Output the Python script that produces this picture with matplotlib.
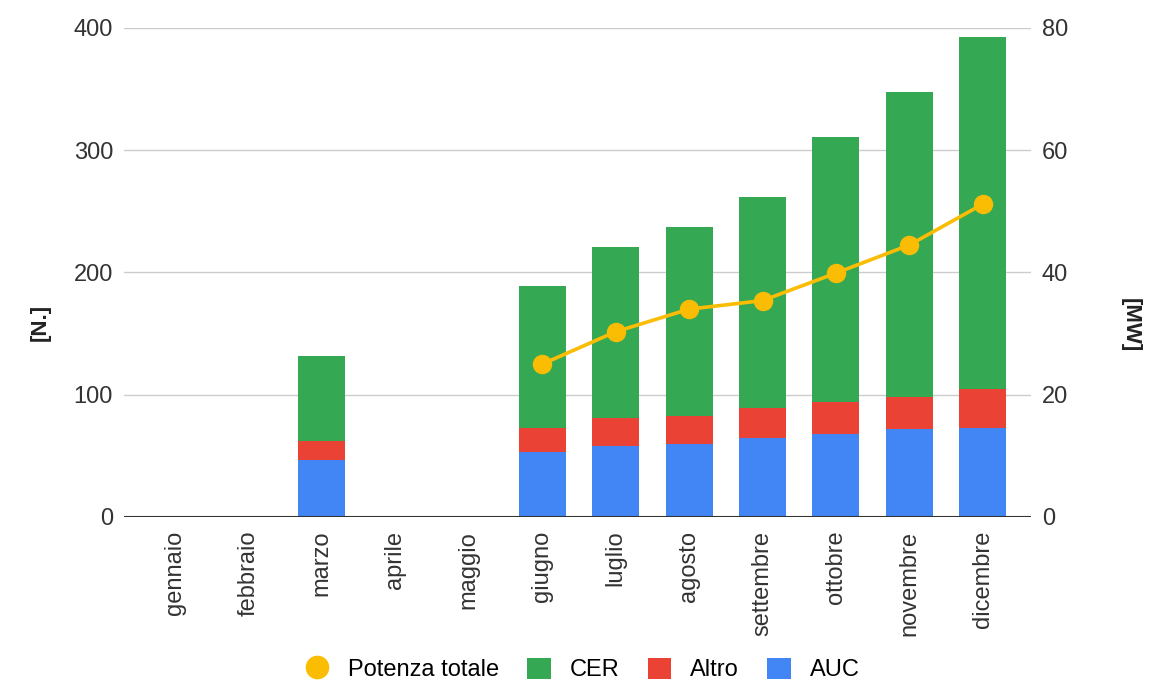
import matplotlib
matplotlib.use("Agg")

import matplotlib.pyplot as plt
from matplotlib.lines import Line2D
from matplotlib.patches import Patch

plt.rcParams["font.family"] = ["Liberation Sans", "DejaVu Sans"]

months = ["gennaio", "febbraio", "marzo", "aprile", "maggio", "giugno",
          "luglio", "agosto", "settembre", "ottobre", "novembre", "dicembre"]
auc = [0, 0, 47, 0, 0, 53, 58, 60, 65, 68, 72, 73]
altro = [0, 0, 15, 0, 0, 20, 23, 23, 24, 26, 26, 32]
cer = [0, 0, 70, 0, 0, 116, 140, 154, 173, 217, 250, 288]
potenza = [None, None, None, None, None, 25.0, 30.3, 34.0, 35.4, 39.9, 44.5, 51.2]

BLUE = "#4285F4"
RED = "#EA4335"
GREEN = "#34A853"
YELLOW = "#FBBC04"
FS = 17

fig = plt.figure(figsize=(11.49, 6.84), dpi=100)
ax = fig.add_axes([0.108, 0.2442, 0.789, 0.7149])
ax2 = ax.twinx()

x = list(range(len(months)))
width = 0.64
bottom_red = auc
bottom_green = [a + b for a, b in zip(auc, altro)]
ax.bar(x, auc, width, color=BLUE, zorder=2)
ax.bar(x, altro, width, bottom=bottom_red, color=RED, zorder=2)
ax.bar(x, cer, width, bottom=bottom_green, color=GREEN, zorder=2)

px = [i for i, v in zip(x, potenza) if v is not None]
py = [v for v in potenza if v is not None]
ax2.plot(px, py, color=YELLOW, linewidth=2.6, marker="o", markersize=13, zorder=3)

ax.set_ylim(0, 400)
ax2.set_ylim(0, 80)
ax.set_xlim(-0.69, 11.65)
ax.set_yticks([0, 100, 200, 300, 400])
ax2.set_yticks([0, 20, 40, 60, 80])
ax.set_xticks(x)
ax.set_xticklabels(months, rotation=90)

ax.grid(axis="y", color="#cccccc", linewidth=1, zorder=0)
ax.axhline(0, color="#333333", linewidth=1.5, zorder=4)
for a in (ax, ax2):
    for s in a.spines.values():
        s.set_visible(False)
    a.tick_params(length=0, labelsize=FS, labelcolor="#333333", pad=8)
ax.tick_params(axis="x", pad=10)

fig.text(40 / 1149, 1 - 322 / 684, "[N.]", fontsize=FS - 1, fontweight="bold",
         color="#222222", rotation=90, ha="center", va="center")
fig.text(1130 / 1149, 1 - 325 / 684, "[MW]", fontsize=FS - 1, fontweight="bold",
         color="#222222", rotation=-90, ha="center", va="center")

handles = [
    Line2D([0], [0], marker="o", color="none", markerfacecolor=YELLOW,
           markeredgecolor=YELLOW, markersize=16, label="Potenza totale"),
    Patch(facecolor=GREEN, label="CER"),
    Patch(facecolor=RED, label="Altro"),
    Patch(facecolor=BLUE, label="AUC"),
]
fig.legend(handles=handles, loc="lower center", bbox_to_anchor=(0.507, -0.027),
           ncol=4, frameon=False, fontsize=FS, handlelength=1.0,
           handleheight=1.0, columnspacing=1.2, handletextpad=0.8)

fig.savefig("out.png", dpi=100)
plt.close(fig)
